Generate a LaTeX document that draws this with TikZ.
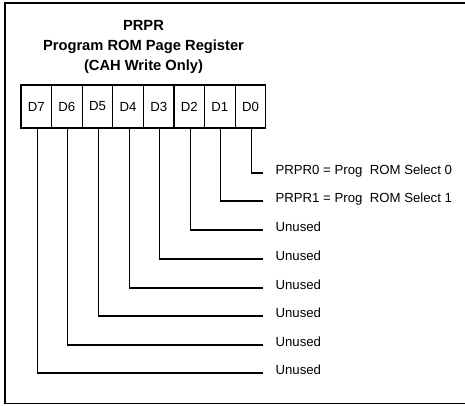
\documentclass[tikz,border=0pt]{standalone}
\usepackage{fontspec}
\setmainfont{Liberation Sans}
\usetikzlibrary{positioning}
\tikzset{
  every picture/.style={line width=1.1pt},
  cell/.style={draw, minimum width=30.6pt, minimum height=43pt, inner sep=0pt, font=\fontsize{13.2}{15}\selectfont},
  lab/.style={anchor=base west, inner sep=0pt, font=\fontsize{13.2}{15}\selectfont},
  title/.style={align=center, font=\fontsize{14.7}{20}\selectfont\bfseries},
  wire/.style={line width=1.1pt},
}
\begin{document}
\begin{tikzpicture}[x=1pt, y=-1pt]
  \useasboundingbox (0,0) rectangle (465,406);
  \draw[line width=1.3pt] (475,3) -- (5,3) -- (5,403.5) -- (475,403.5);
  \node[title] (ttl) at (143.5,47) {PRPR\\Program ROM Page Register\\(CAH Write Only)};
  \foreach \k in {0,...,7} {
    \pgfmathtruncatemacro\b{7-\k}
    \node[cell] (d\b) at ({21+30.6*(\k+0.5)},106.5) {D\b};
  }
  \foreach \b/\y/\txt in {0/173/{PRPR0 = Prog\ \ ROM Select 0}, 1/201/{PRPR1 = Prog\ \ ROM Select 1},
      2/230/Unused, 3/259/Unused, 4/288/Unused, 5/316/Unused, 6/345/Unused, 7/373/Unused} {
    \coordinate (e\b) at (263,\y);
    \node[lab] (l\b) at (275,\y+1) {\txt};
    \draw[wire] ([xshift=1pt]d\b.south) |- (e\b);
  }
\end{tikzpicture}
\end{document}
